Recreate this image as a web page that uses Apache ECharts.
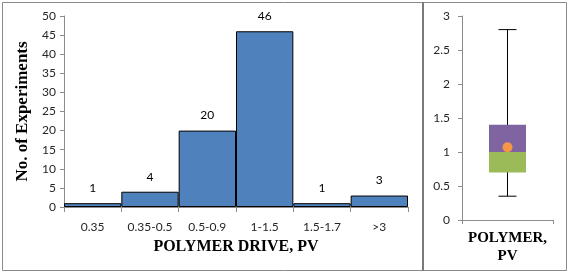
<!DOCTYPE html>
<html><head><meta charset="utf-8">
<script src="https://cdn.jsdelivr.net/npm/echarts@6/dist/echarts.min.js"></script>
<style>html,body{margin:0;padding:0;background:#fff}#c{width:570px;height:273px}</style>
</head><body><div id="c"></div>
<script>
var categories = ['0.35', '0.35-0.5', '0.5-0.9', '1-1.5', '1.5-1.7', '>3'];
var counts = [1, 4, 20, 46, 1, 3];
var histTicks = [0, 5, 10, 15, 20, 25, 30, 35, 40, 45, 50];
var boxCategory = ['POLYMER,\nPV'];
var boxMin = [0.35];
var boxQ1 = [0.7];
var boxMedian = [1.0];
var boxQ3 = [1.4];
var boxMax = [2.8];
var boxMean = [1.07];
var boxTicks = [0, 0.5, 1, 1.5, 2, 2.5, 3];

var chart = echarts.init(document.getElementById('c'), null, {renderer: 'canvas'});
var tickFont = {fontFamily: 'Lato', fontSize: 12, color: '#262626'};
var axisGray = '#8c8c8c';
var serifBold = {fontFamily: '"Liberation Serif", "Times New Roman", serif', fontWeight: 'bold', color: '#000'};

chart.setOption({
  animation: false,
  backgroundColor: '#fff',
  graphic: [
    {type: 'rect', shape: {x: 2.5, y: 2.5, width: 564, height: 268}, style: {fill: 'none', stroke: '#8a8a8a', lineWidth: 1}, silent: true},
    {type: 'rect', shape: {x: 422, y: 2, width: 2, height: 269}, style: {fill: '#7a7a7a'}, silent: true}
  ],
  grid: [
    {left: 64, top: 16, width: 344, height: 191},
    {left: 462, top: 16, width: 91, height: 204}
  ],
  xAxis: [
    {gridIndex: 0, type: 'category', data: categories, boundaryGap: true,
     axisLine: {lineStyle: {color: axisGray}}, axisTick: {show: true, length: 5, lineStyle: {color: axisGray}},
     axisLabel: Object.assign({margin: 14, interval: 0}, tickFont),
     name: 'POLYMER DRIVE, PV', nameLocation: 'middle', nameGap: 32,
     nameTextStyle: Object.assign({fontSize: 16}, serifBold)},
    {gridIndex: 1, type: 'category', data: boxCategory, boundaryGap: true,
     axisLine: {lineStyle: {color: axisGray}}, axisTick: {show: true, length: 4, lineStyle: {color: axisGray}},
     axisLabel: Object.assign({margin: 9, interval: 0, fontSize: 15, lineHeight: 18}, serifBold)}
  ],
  yAxis: [
    {gridIndex: 0, type: 'value', min: histTicks[0], max: histTicks[histTicks.length - 1], interval: 5,
     axisLine: {show: true, lineStyle: {color: axisGray}}, axisTick: {show: true, length: 4, lineStyle: {color: axisGray}},
     splitLine: {show: false}, axisLabel: Object.assign({margin: 8}, tickFont),
     name: 'No. of Experiments', nameLocation: 'middle', nameGap: 22,
     nameTextStyle: Object.assign({fontSize: 17}, serifBold)},
    {gridIndex: 1, type: 'value', min: boxTicks[0], max: boxTicks[boxTicks.length - 1], interval: 0.5,
     axisLine: {show: true, lineStyle: {color: axisGray}}, axisTick: {show: true, length: 4, lineStyle: {color: axisGray}},
     splitLine: {show: false}, axisLabel: Object.assign({margin: 12}, tickFont)}
  ],
  series: [
    {type: 'bar', xAxisIndex: 0, yAxisIndex: 0, data: counts, barCategoryGap: '0%',
     itemStyle: {color: '#4F81BD', borderColor: '#000', borderWidth: 1},
     label: {show: true, position: 'top', distance: 9, fontFamily: 'Lato', fontSize: 12, color: '#000'}},
    {type: 'custom', xAxisIndex: 1, yAxisIndex: 1, z: 1,
     data: boxCategory.map(function (c, i) { return [i, boxMin[i], boxMax[i]]; }),
     renderItem: function (params, api) {
       var lo = api.coord([api.value(0), api.value(1)]);
       var hi = api.coord([api.value(0), api.value(2)]);
       var cap = 9;
       var st = {stroke: '#000', lineWidth: 1};
       return {type: 'group', children: [
         {type: 'line', shape: {x1: lo[0], y1: lo[1], x2: hi[0], y2: hi[1]}, style: st},
         {type: 'line', shape: {x1: lo[0] - cap, y1: lo[1], x2: lo[0] + cap, y2: lo[1]}, style: st},
         {type: 'line', shape: {x1: hi[0] - cap, y1: hi[1], x2: hi[0] + cap, y2: hi[1]}, style: st}
       ]};
     }},
    {type: 'bar', xAxisIndex: 1, yAxisIndex: 1, stack: 'box', barWidth: 37, z: 3, data: boxQ1,
     itemStyle: {color: 'rgba(0,0,0,0)'}},
    {type: 'bar', xAxisIndex: 1, yAxisIndex: 1, stack: 'box', barWidth: 37, z: 3,
     data: boxMedian.map(function (m, i) { return m - boxQ1[i]; }), itemStyle: {color: '#9BBB59'}},
    {type: 'bar', xAxisIndex: 1, yAxisIndex: 1, stack: 'box', barWidth: 37, z: 3,
     data: boxQ3.map(function (q, i) { return q - boxMedian[i]; }), itemStyle: {color: '#8064A2'}},
    {type: 'scatter', xAxisIndex: 1, yAxisIndex: 1, z: 5, symbolSize: 10,
     data: boxMean.map(function (m, i) { return [i, m]; }), itemStyle: {color: '#F79646', opacity: 1}}
  ]
});
</script></body></html>
